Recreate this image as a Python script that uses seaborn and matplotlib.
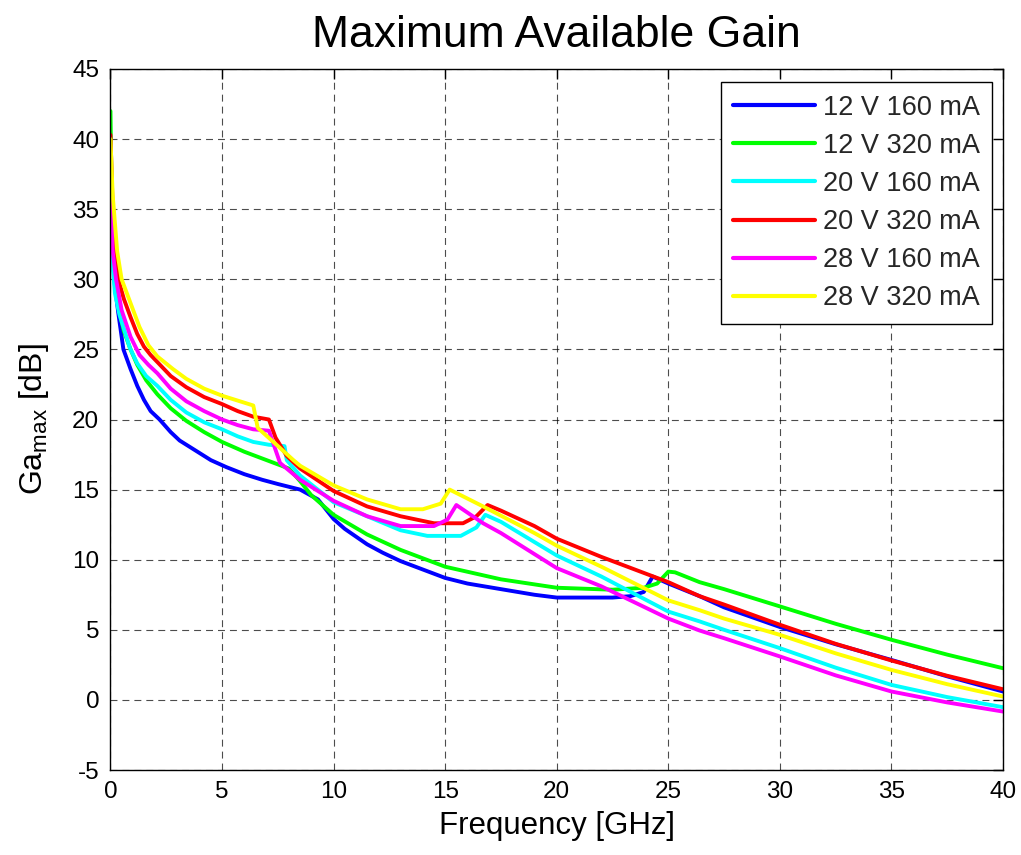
import numpy as np
import pandas as pd
import matplotlib
matplotlib.use("Agg")
import matplotlib.pyplot as plt
import seaborn as sns

# ---------------- data ----------------
series_names = ["12 V 160 mA", "12 V 320 mA", "20 V 160 mA",
                "20 V 320 mA", "28 V 160 mA", "28 V 320 mA"]
series_colors = ["#0000ff", "#00ff00", "#00ffff", "#ff0000", "#ff00ff", "#ffff00"]

freq_12v160 = [0, 0.07, 0.2, 0.35, 0.58, 0.9, 1.2, 1.5, 1.8, 2.2, 2.7, 3.1, 3.7, 4.5, 5.2, 6, 6.8,
               7.5, 8.5, 9.3, 9.7, 10, 10.5, 11.5, 12.2, 13, 14, 15, 16, 17.5, 19, 20, 22.5,
               23.3, 23.9, 24.3, 25, 26.4, 27.5, 30, 32.5, 35, 37.5, 40]
gain_12v160 = [35, 32, 29.5, 27.6, 25.0, 23.6, 22.4, 21.4, 20.6, 20.0, 19.1, 18.5, 17.9, 17.1, 16.6, 16.1, 15.7,
               15.4, 15.0, 14.3, 13.5, 12.9, 12.2, 11.1, 10.5, 9.9, 9.3, 8.7, 8.3, 7.9, 7.5, 7.3, 7.3,
               7.4, 7.7, 8.8, 8.3, 7.4, 6.6, 5.2, 3.97, 2.85, 1.68, 0.6]

freq_12v320 = [0, 0.05, 0.15, 0.35, 0.6, 0.9, 1.2, 1.6, 2.1, 2.7, 3.4, 4.2, 5, 6, 7, 8, 8.5, 9, 10,
               11.5, 13, 15, 17.5, 20, 22.5, 23.9, 24.5, 25, 25.3, 26.4, 27.5, 30, 32.5, 35, 37.5, 40]
gain_12v320 = [42, 36, 31, 28, 26.3, 25.0, 23.9, 22.8, 21.8, 20.8, 19.9, 19.1, 18.4, 17.7, 17.1, 16.5, 15.6, 14.6, 13.2,
               11.8, 10.7, 9.5, 8.6, 8.0, 7.86, 8.0, 8.3, 9.15, 9.1, 8.4, 7.9, 6.67, 5.43, 4.29, 3.23, 2.26]

freq_20v160 = [0, 0.1, 0.2, 0.4, 0.87, 1.2, 1.6, 2.1, 2.7, 3.4, 4.2, 5, 5.7, 6.4, 7.1, 7.8, 7.9, 8.5,
               10, 11.5, 13, 14.2, 15.7, 16.4, 16.8, 17.5, 20, 22, 25, 26.4, 27.5, 30, 32.5, 35, 37.5, 40]
gain_20v160 = [36.5, 31, 29, 27.5, 25.1, 24.0, 23.1, 22.4, 21.4, 20.5, 19.8, 19.3, 18.8, 18.4, 18.2, 18.1, 17.1, 16.0,
               14.1, 13.1, 12.1, 11.7, 11.7, 12.3, 13.2, 12.7, 10.3, 8.8, 6.3, 5.6, 5.0, 3.69, 2.3, 1.07, 0.2, -0.52]

freq_20v320 = [0, 0.1, 0.2, 0.35, 0.6, 0.9, 1.2, 1.5, 1.8, 2.1, 2.7, 3.4, 4.2, 5, 5.7, 6.4, 7.1, 7.4,
               7.9, 8.5, 10, 11.5, 13, 14.5, 15.8, 16.4, 16.9, 17.5, 19, 20, 22, 25, 26.4, 27.5,
               30, 32.5, 35, 37.5, 40]
gain_20v320 = [40.3, 35, 32, 30, 28.6, 27.3, 26.1, 25.2, 24.6, 24.1, 23.1, 22.3, 21.6, 21.1, 20.6, 20.2, 20.0, 18.7,
               17.4, 16.5, 14.9, 13.8, 13.1, 12.6, 12.6, 13.1, 13.9, 13.5, 12.4, 11.5, 10.2, 8.4, 7.4, 6.8,
               5.36, 4.0, 2.81, 1.72, 0.76]

freq_28v160 = [0, 0.1, 0.25, 0.5, 0.9, 1.3, 1.7, 2.1, 2.7, 3.4, 4.2, 5, 5.7, 6.4, 7.1, 7.6, 8.5, 10,
               11.5, 13, 14.5, 15.1, 15.5, 16.7, 17.5, 20, 22, 25, 26.4, 27.5, 30, 32.5, 35, 37.5, 40]
gain_28v160 = [37.5, 32, 30, 27.8, 25.9, 24.6, 23.9, 23.3, 22.2, 21.3, 20.6, 20.0, 19.6, 19.3, 19.2, 16.9, 15.7, 14.2,
               13.1, 12.4, 12.4, 12.86, 13.9, 12.6, 11.9, 9.4, 8.1, 5.8, 4.95, 4.4, 3.1, 1.75, 0.6, -0.18, -0.83]

freq_28v320 = [0, 0.1, 0.3, 0.5, 0.9, 1.3, 1.7, 2.1, 2.8, 3.4, 4.2, 5, 5.8, 6.4, 6.6, 7.3, 8.2, 8.5,
               10, 11.5, 13, 14, 14.8, 15.2, 16.7, 19, 20, 22, 25, 26.4, 27.5, 30, 32.5, 35, 37.5, 40]
gain_28v320 = [40, 36, 32, 30, 28.3, 26.6, 25.3, 24.5, 23.6, 22.9, 22.2, 21.7, 21.3, 21.0, 19.4, 18.4, 17.1, 16.7,
               15.3, 14.3, 13.6, 13.6, 14.0, 15.0, 13.8, 11.9, 11.0, 9.5, 7.1, 6.4, 5.8, 4.64, 3.32, 2.14, 1.12, 0.24]

x_ticks = [0, 5, 10, 15, 20, 25, 30, 35, 40]
y_ticks = [-5, 0, 5, 10, 15, 20, 25, 30, 35, 40, 45]

freqs = [freq_12v160, freq_12v320, freq_20v160, freq_20v320, freq_28v160, freq_28v320]
gains = [gain_12v160, gain_12v320, gain_20v160, gain_20v320, gain_28v160, gain_28v320]

frames = []
for name, f, g in zip(series_names, freqs, gains):
    frames.append(pd.DataFrame({"freq": f, "gain": g, "bias": name}))
df = pd.concat(frames, ignore_index=True)

# ---------------- style ----------------
sns.set_theme(style="white")
plt.rcParams["font.family"] = ["Liberation Sans", "DejaVu Sans"]
plt.rcParams["mathtext.fontset"] = "custom"
plt.rcParams["mathtext.rm"] = "Liberation Sans"
plt.rcParams["mathtext.it"] = "Liberation Sans"

fig = plt.figure(figsize=(10.21, 8.55), dpi=100)
ax = fig.add_axes([0.1082, 0.0994, 0.8742, 0.8199])

sns.lineplot(data=df, x="freq", y="gain", hue="bias", hue_order=series_names,
             palette=series_colors, estimator=None, sort=False, linewidth=2.8, ax=ax)

ax.set_xlim(0, 40)
ax.set_ylim(-5, 45)
ax.set_xticks(x_ticks)
ax.set_yticks(y_ticks)
ax.set_xticklabels([str(v) for v in x_ticks])
ax.set_yticklabels([str(v) for v in y_ticks])

ax.grid(True, color="black", linestyle=(0, (6.25, 4.5)), linewidth=0.8, alpha=0.7)
ax.set_axisbelow(True)

for s in ax.spines.values():
    s.set_visible(True)
    s.set_color("black")
    s.set_linewidth(1.0)

ax.tick_params(axis="both", which="major", direction="in", length=7, width=1,
               top=True, right=True, labelsize=17.5, colors="black", pad=8)

ax.set_title("Maximum Available Gain", fontsize=32, pad=16, color="black")
ax.set_xlabel("Frequency [GHz]", fontsize=22.5, labelpad=6, color="black")
ax.set_ylabel(r"Ga$_{\mathrm{max}}$ [dB]", fontsize=23, labelpad=15, color="black")

handles, labels = ax.get_legend_handles_labels()
leg = ax.legend(handles, labels, loc="upper right", bbox_to_anchor=(0.9877, 0.981),
                borderaxespad=0, fontsize=19.5, frameon=True, fancybox=False,
                edgecolor="black", framealpha=1, handlelength=3.0, handletextpad=0.3,
                labelspacing=0.45, borderpad=0.45)
leg.get_frame().set_linewidth(1.0)
for line in leg.get_lines():
    line.set_linewidth(3)

fig.savefig("out.png", dpi=100, facecolor="white")
